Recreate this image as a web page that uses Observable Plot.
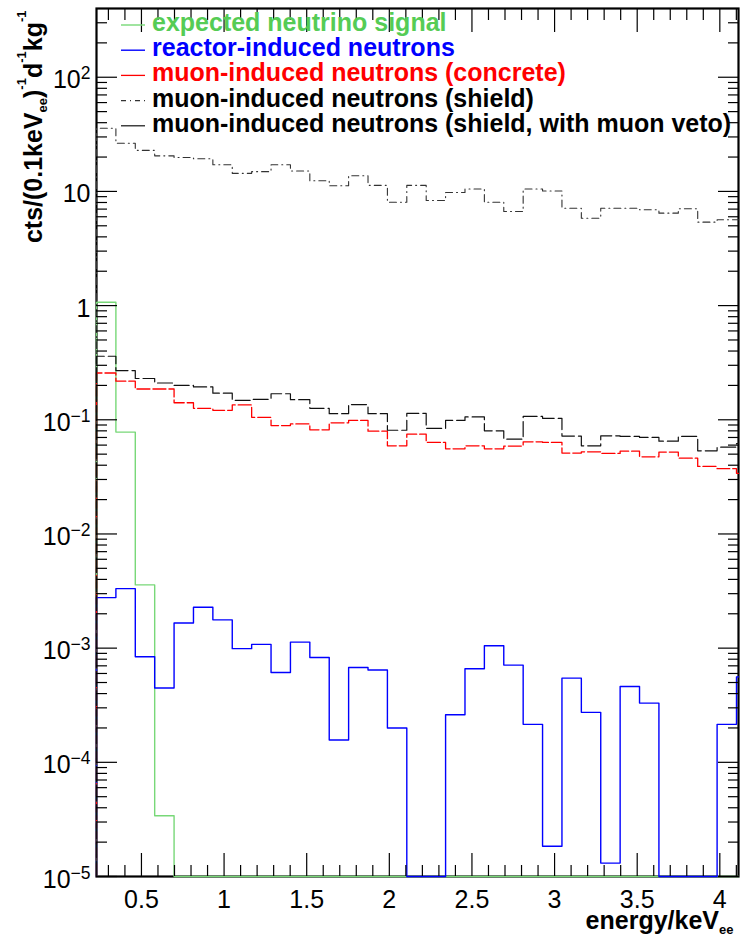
<!DOCTYPE html>
<html><head><meta charset="utf-8">
<script src="https://cdn.jsdelivr.net/npm/d3@7"></script>
<script src="https://cdn.jsdelivr.net/npm/@observablehq/plot@0.6"></script>
<style>
html,body{margin:0;padding:0;background:#fff;}
#chart{width:741px;height:944px;}
</style></head><body><div id="chart"></div>
<script>
// ---- binning (histogram bin edges, keVee) ----
const binStart = 0.228;
const binWidth = 0.11736;
const xMin = 0.228, xMax = 4.113;
const yMin = 1e-5, yMax = 400;

// ---- series values (per bin) ----
const neutrinoSignal = [1.07, 0.078, 0.00358, 3.4e-5, 0, 0, 0, 0, 0, 0, 0, 0, 0, 0, 0, 0, 0,
  0, 0, 0, 0, 0, 0, 0, 0, 0, 0, 0, 0, 0, 0, 0, 0, 0];
const reactorNeutrons = [2.77e-3, 3.32e-3, 8.4e-4, 4.47e-4, 1.66e-3, 2.28e-3, 1.77e-3, 9.9e-4,
  1.08e-3, 6.12e-4, 1.13e-3, 8.28e-4, 1.57e-4, 6.76e-4, 6.43e-4, 2.0e-4, 0, 0, 2.61e-4, 6.6e-4,
  1.05e-3, 7.1e-4, 2.15e-4, 1.84e-5, 5.46e-4, 2.74e-4, 1.31e-5, 4.61e-4, 3.3e-4, 0, 0, 0, 2.15e-4, 5.6e-4];
const muonConcrete = [0.257, 0.218, 0.186, 0.186, 0.141, 0.126, 0.121, 0.135, 0.105, 0.089, 0.092,
  0.0817, 0.094, 0.0987, 0.0794, 0.0592, 0.0748, 0.0633, 0.0557, 0.0592, 0.0557, 0.0588, 0.0641,
  0.0633, 0.0511, 0.0524, 0.0507, 0.0531, 0.0474, 0.0521, 0.0461, 0.039, 0.0373, 0.034];
const muonShield = [35.7, 26.4, 22.9, 20.5, 19.8, 19.3, 17.1, 14.4, 14.9, 17.1, 15.1, 12.4, 11.2,
  13.7, 11.3, 8.05, 11.3, 8.33, 9.78, 10.5, 8.05, 6.67, 10.5, 10.1, 7.13, 5.83, 7.13, 7.13, 6.9,
  6.45, 7.06, 5.38, 5.65, 5.65];
const muonShieldVeto = [0.36, 0.27, 0.23, 0.21, 0.20, 0.194, 0.171, 0.148, 0.151, 0.169, 0.150,
  0.126, 0.113, 0.136, 0.113, 0.081, 0.114, 0.084, 0.0987, 0.106, 0.080, 0.0676, 0.107, 0.103,
  0.072, 0.0592, 0.0724, 0.0715, 0.070, 0.065, 0.0715, 0.0535, 0.0575, 0.062];

// ---- labels ----
const seriesLabels = [
  "expected neutrino signal",
  "reactor-induced neutrons",
  "muon-induced neutrons (concrete)",
  "muon-induced neutrons (shield)",
  "muon-induced neutrons (shield, with muon veto)"
];
const xMajorTicks = [0.5, 1, 1.5, 2, 2.5, 3, 3.5, 4];
const xMajorLabels = ["0.5", "1", "1.5", "2", "2.5", "3", "3.5", "4"];
const yMajorTicks = [1e-5, 1e-4, 1e-3, 1e-2, 1e-1, 1, 10, 100];
const yMajorLabels = ["10^{−5}", "10^{−4}", "10^{−3}", "10^{−2}", "10^{−1}", "1", "10", "10^{2}"];
const xTitle = "energy/keV_{ee}";
const yTitle = "cts/(0.1keV_{ee})^{-1}d^{-1}kg^{-1}";

const xMinorTicks = d3.range(3, 42).map(i => i / 10).filter(v => !xMajorTicks.some(m => Math.abs(m - v) < 1e-9));
const yMinorTicks = [];
for (let e = -5; e <= 2; e++) for (let m = 2; m <= 9; m++) { const v = m * Math.pow(10, e); if (v < yMax) yMinorTicks.push(v); }

// ---- styles ----
const styles = [
  {values: neutrinoSignal, color: "#78d878", text: "#55cc55", width: 1.4, dash: null, legendDash: null},
  {values: reactorNeutrons, color: "#0000ff", text: "#0000ff", width: 1.4, dash: null, legendDash: null},
  {values: muonConcrete, color: "#ff0000", text: "#ff0000", width: 1.3, dash: "13,3", legendDash: null},
  {values: muonShield, color: "#333333", text: "#000000", width: 1.1, dash: "7,4,1,4", legendDash: "5,4,1,4"},
  {values: muonShieldVeto, color: "#111111", text: "#000000", width: 1.2, dash: "15,4", legendDash: null}
];

function histTable(values) {
  const pts = [{x: binStart, y: yMin}];
  values.forEach((v, i) => pts.push({x: binStart + i * binWidth, y: Math.max(v, yMin)}));
  pts.push({x: xMax, y: Math.max(values[values.length - 1], yMin)});
  return pts;
}

const fmtY = d => yMajorLabels[yMajorTicks.indexOf(d)];
const fmtX = d => xMajorLabels[xMajorTicks.indexOf(d)];

const chart = Plot.plot({
  width: 741, height: 944,
  marginLeft: 96, marginRight: 3, marginTop: 8, marginBottom: 68,
  style: {fontFamily: "'Liberation Sans', Arial, Helvetica, sans-serif", background: "#fff", color: "#000"},
  x: {type: "linear", domain: [xMin, xMax], axis: null},
  y: {type: "log", domain: [yMin, yMax], axis: null},
  marks: [
    Plot.frame({stroke: "#000", strokeWidth: 2.2}),
    ...styles.map(s => Plot.line(histTable(s.values), {
      x: "x", y: "y", curve: "step-after", stroke: s.color, strokeWidth: s.width,
      strokeDasharray: s.dash
    })),
    // inward ticks (all four sides)
    Plot.axisY(yMajorTicks, {anchor: "left", tickSize: 21, dx: 21, fill: "none", label: null, strokeWidth: 1.2}),
    Plot.axisY(yMinorTicks, {anchor: "left", tickSize: 11, dx: 11, fill: "none", label: null, strokeWidth: 1.2}),
    Plot.axisY(yMajorTicks, {anchor: "right", tickSize: 21, dx: -21, fill: "none", label: null, strokeWidth: 1.2}),
    Plot.axisY(yMinorTicks, {anchor: "right", tickSize: 11, dx: -11, fill: "none", label: null, strokeWidth: 1.2}),
    Plot.axisX(xMajorTicks, {anchor: "bottom", tickSize: 23, dy: -23, fill: "none", label: null, strokeWidth: 1.2}),
    Plot.axisX(xMinorTicks, {anchor: "bottom", tickSize: 11, dy: -11, fill: "none", label: null, strokeWidth: 1.2}),
    Plot.axisX(xMajorTicks, {anchor: "top", tickSize: 23, dy: 23, fill: "none", label: null, strokeWidth: 1.2}),
    Plot.axisX(xMinorTicks, {anchor: "top", tickSize: 11, dy: 11, fill: "none", label: null, strokeWidth: 1.2}),
    // tick labels
    Plot.axisY(yMajorTicks, {anchor: "left", tickSize: 0, tickPadding: 6, tickFormat: fmtY, fontSize: 25, label: null, dy: 3}),
    Plot.axisX(xMajorTicks, {anchor: "bottom", tickSize: 0, tickPadding: 14, tickFormat: fmtX, fontSize: 25, label: null}),
    // axis titles
    Plot.text([yTitle], {text: d => d, frameAnchor: "top-left", rotate: -90, textAnchor: "end", lineAnchor: "bottom",
      dx: -55, dy: 2, fontSize: 25, fontWeight: "bold"}),
    Plot.text([xTitle], {text: d => d, frameAnchor: "bottom-right", textAnchor: "end", lineAnchor: "bottom",
      dx: -5, dy: 52, fontSize: 25, fontWeight: "bold"})
  ]
});
document.getElementById("chart").appendChild(chart);

// rich text: ^{..} superscripts and _{..} subscripts as tspans
function richify(el, ratio, rise, drop) {
  const s = el.textContent;
  if (!/[\^_]\{/.test(s)) return;
  const fs = parseFloat(getComputedStyle(el).fontSize) || 25;
  const parts = [];
  const re = /([\^_])\{([^}]*)\}/g;
  let last = 0, m;
  while ((m = re.exec(s))) {
    if (m.index > last) parts.push({t: s.slice(last, m.index), k: "n"});
    parts.push({t: m[2], k: m[1] === "^" ? "sup" : "sub"});
    last = re.lastIndex;
  }
  if (last < s.length) parts.push({t: s.slice(last), k: "n"});
  while (el.firstChild) el.removeChild(el.firstChild);
  let cur = 0;
  for (const p of parts) {
    const target = p.k === "sup" ? -rise : p.k === "sub" ? drop : 0;
    const ts = d3.select(el).append("tspan").text(p.t).attr("dy", target - cur);
    if (p.k !== "n") ts.attr("font-size", fs * ratio);
    cur = target;
  }
}
d3.select(chart).selectAll("text").each(function() {
  const s = this.textContent;
  if (s === yTitle || s === xTitle) richify(this, 0.52, 16, 5);
  else richify(this, 0.7, 9, 0);
});

// legend (no box, top-left inside frame)
const lg = d3.select(chart).append("g")
  .attr("font-family", "'Liberation Sans', Arial, Helvetica, sans-serif")
  .attr("font-size", 25).attr("font-weight", "bold").attr("text-anchor", "start");
styles.forEach((s, i) => {
  const by = 31 + i * 25.2;
  lg.append("line").attr("x1", 121).attr("x2", 145).attr("y1", by - 6).attr("y2", by - 6)
    .attr("stroke", s.color).attr("stroke-width", s.width)
    .attr("stroke-dasharray", s.legendDash);
  lg.append("text").attr("x", 152).attr("y", by).attr("fill", s.text).text(seriesLabels[i]);
});
</script>
</body></html>
